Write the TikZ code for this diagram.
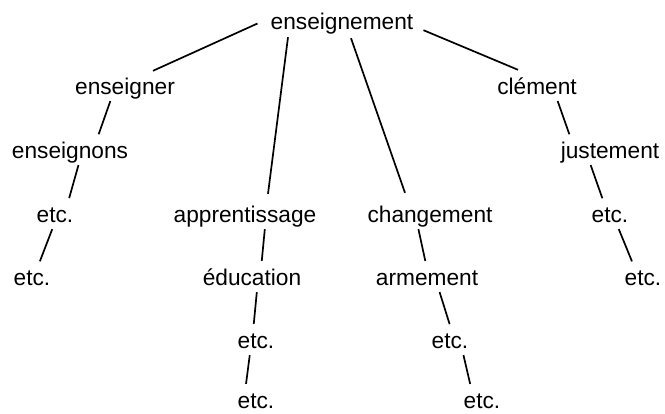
\documentclass[tikz,border=0pt]{standalone}
\usepackage{fontspec}
\setmainfont{Liberation Sans}

\begin{document}
\begin{tikzpicture}[x=1pt, y=-1pt,
    word/.style={inner sep=0pt, anchor=base, text height=16pt, text depth=5pt,
        font=\fontsize{22.7}{27}\selectfont},
    link/.style={line width=1.7pt},
    sublink/.style={link, shorten <=2pt, shorten >=8pt}]
    \useasboundingbox (0,0) rectangle (665,413);

    \node[word] (root) at (342,29) {enseignement};

    % left branch
    \node[word] (enseigner) at (125,94) {enseigner};
    \node[word] (enseignons) at (70,158) {enseignons};
    \node[word] (etcVa) at (55,222) {etc.};
    \node[word] (etcVb) at (32,285) {etc.};

    % middle branches
    \node[word] (apprentissage) at (245,222) {apprentissage};
    \node[word] (education) at (252,285) {éducation};
    \node[word] (etcAa) at (256,348) {etc.};
    \node[word] (etcAb) at (256,408) {etc.};

    \node[word] (changement) at (430,222) {changement};
    \node[word] (armement) at (427,285) {armement};
    \node[word] (etcCa) at (450,348) {etc.};
    \node[word] (etcCb) at (482,408) {etc.};

    % right branch
    \node[word] (clement) at (537,94) {clément};
    \node[word] (justement) at (610,158) {justement};
    \node[word] (etcJa) at (610,222) {etc.};
    \node[word] (etcJb) at (643,285) {etc.};

    \draw[link] ([xshift=-13pt]root.west) -- ([xshift=28pt,yshift=7pt]enseigner.north);
    \draw[link] ([xshift=-54pt,yshift=-3pt]root.south) -- ([xshift=23pt,yshift=12pt]apprentissage.north);
    \draw[link] ([xshift=9pt,yshift=-4pt]root.south) -- ([xshift=-25pt,yshift=13pt]changement.north);
    \draw[link] ([xshift=10pt,yshift=4pt]root.south east) -- ([xshift=-19pt,yshift=8pt]clement.north);

    \draw[sublink] ([xshift=-14pt]enseigner.south) -- ([xshift=26pt]enseignons.north);
    \draw[sublink] ([xshift=9pt]enseignons.south) -- ([xshift=12pt]etcVa.north);
    \draw[sublink] ([xshift=-2pt]etcVa.south) -- ([xshift=5pt]etcVb.north);

    \draw[sublink] ([xshift=20pt]apprentissage.south) -- ([xshift=9pt]education.north);
    \draw[sublink] ([xshift=5pt]education.south) -- ([xshift=-3pt]etcAa.north);
    \draw[sublink] ([xshift=-6pt]etcAa.south) -- ([xshift=-11pt]etcAb.north);

    \draw[sublink] ([xshift=-12pt]changement.south) -- (armement.north);
    \draw[sublink] ([xshift=12pt]armement.south) -- ([xshift=2pt]etcCa.north);
    \draw[sublink] ([xshift=13pt]etcCa.south) -- ([xshift=-10pt]etcCb.north);

    \draw[sublink] ([xshift=20pt]clement.south) -- ([xshift=-38pt]justement.north);
    \draw[sublink] ([xshift=-20pt]justement.south) -- ([xshift=-5pt]etcJa.north);
    \draw[sublink] ([xshift=8pt]etcJa.south) -- ([xshift=-8pt]etcJb.north);
\end{tikzpicture}
\end{document}
